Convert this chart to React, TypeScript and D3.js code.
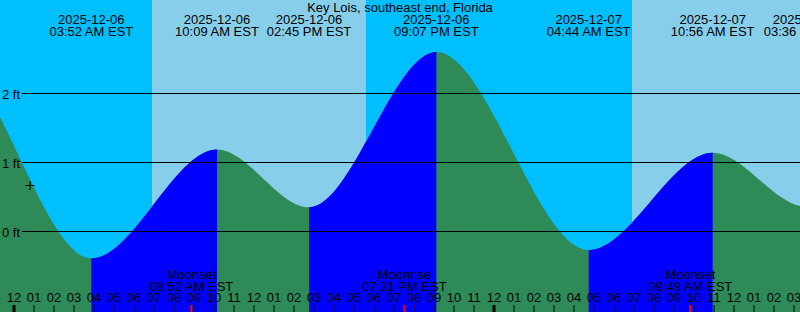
import React from "react";
import * as d3 from "d3";

// ---- data (hours measured from 2025-12-06 00:00 EST) ----
const title = "Key Lois, southeast end, Florida";

const tideHours = [-9.7, -3.4, 3.867, 10.15, 14.75, 21.117, 28.733, 34.933, 39.6, 46.0];
const tideHeights = [0.4, 2.58, -0.39, 1.19, 0.35, 2.6, -0.27, 1.14, 0.36, 2.5];
const tideDates = ["", "", "2025-12-06", "2025-12-06", "2025-12-06", "2025-12-06", "2025-12-07", "2025-12-07", "2025-12-07", ""];
const tideTimes = ["", "", "03:52 AM EST", "10:09 AM EST", "02:45 PM EST", "09:07 PM EST", "04:44 AM EST", "10:56 AM EST", "03:36 PM EST", ""];

const sunriseHours = [6.9, 30.9];
const sunsetHours = [17.6, 41.6];

const moonHours = [8.867, 19.517, 33.817];
const moonNames = ["Moonset", "Moonrise", "Moonset"];
const moonTimes = ["08:52 AM EST", "07:31 PM EST", "09:49 AM EST"];

const gridFeet = [0, 1, 2];
const gridLabels = ["0 ft", "1 ft", "2 ft"];

const hourTicks = d3.range(0, 40);
const hourLabels = hourTicks.map((h) => String(h % 12 === 0 ? 12 : h % 12).padStart(2, "0"));

const nowHour = 0.8;
const nowHeight = 0.68;

// ---- layout ----
const W = 800;
const H = 312;
const NIGHT = "#00BFFF";
const DAY = "#87CEEB";
const FLOOD = "#0000FF";
const EBB = "#2E8B57";
const FONT = "'Liberation Sans', Arial, sans-serif";

export default function App() {
  const x = d3.scaleLinear().domain([-0.7, 39.3]).range([0, W]);
  const y = d3.scaleLinear().domain([0, 1]).range([231.5, 162.5]);

  const pts = tideHours.map((t, i) => [t, tideHeights[i]] as [number, number]);
  const area = d3
    .area<[number, number]>()
    .x((d) => x(d[0]))
    .y0(H + 5)
    .y1((d) => y(d[1]))
    .curve(d3.curveMonotoneX);
  const areaPath = area(pts) || "";

  const rising: [number, number][] = [];
  for (let i = 0; i < tideHours.length - 1; i++) {
    if (tideHeights[i + 1] > tideHeights[i]) rising.push([tideHours[i], tideHours[i + 1]]);
  }

  const nx = x(nowHour);
  const ny = Math.round(y(nowHeight)) + 0.5;

  return (
    <svg
      width={W}
      height={H}
      style={{ position: "absolute", left: 0, top: 0, display: "block" }}
      fontFamily={FONT}
      fontSize={13}
    >
      <defs>
        <clipPath id="rise">
          {rising.map((r, i) => (
            <rect key={i} x={x(r[0])} y={0} width={x(r[1]) - x(r[0])} height={H} />
          ))}
        </clipPath>
      </defs>
      <rect x={0} y={0} width={W} height={H} fill={NIGHT} />
      {sunriseHours.map((s, i) => (
        <rect key={i} x={x(s)} y={0} width={x(sunsetHours[i]) - x(s)} height={H} fill={DAY} />
      ))}
      <path d={areaPath} fill={EBB} />
      <path d={areaPath} fill={FLOOD} clipPath="url(#rise)" />

      {gridFeet.map((f, i) => (
        <g key={i}>
          <line x1={22} x2={W} y1={y(f)} y2={y(f)} stroke="#000" strokeWidth={1} />
          <text x={2} y={y(f) + 5} fill="#000">
            {gridLabels[i]}
          </text>
        </g>
      ))}

      <text x={W / 2} y={12} textAnchor="middle" fill="#000">
        {title}
      </text>
      {tideHours.map((t, i) =>
        tideDates[i] ? (
          <g key={i}>
            <text x={x(t)} y={24} textAnchor="middle" fill="#000">
              {tideDates[i]}
            </text>
            <text x={x(t)} y={36} textAnchor="middle" fill="#000">
              {tideTimes[i]}
            </text>
          </g>
        ) : null
      )}

      {moonHours.map((t, i) => (
        <g key={i}>
          <text x={x(t)} y={278.5} textAnchor="middle" fill="#000">
            {moonNames[i]}
          </text>
          <text x={x(t)} y={290.5} textAnchor="middle" fill="#000">
            {moonTimes[i]}
          </text>
        </g>
      ))}

      {hourTicks.map((h, i) => (
        <g key={i}>
          <text x={x(h)} y={302} textAnchor="middle" fill="#000">
            {hourLabels[i]}
          </text>
          <line
            x1={x(h)}
            x2={x(h)}
            y1={305}
            y2={H}
            stroke="#000"
            strokeWidth={h % 24 === 0 ? 3 : 1}
          />
        </g>
      ))}
      {moonHours.map((t, i) => (
        <line key={i} x1={x(t)} x2={x(t)} y1={305} y2={H} stroke="#FF0000" strokeWidth={2} />
      ))}

      <line x1={nx - 4.5} x2={nx + 4.5} y1={ny} y2={ny} stroke="#000" strokeWidth={1} />
      <line x1={nx} x2={nx} y1={ny - 4.5} y2={ny + 4.5} stroke="#000" strokeWidth={1} />
    </svg>
  );
}
